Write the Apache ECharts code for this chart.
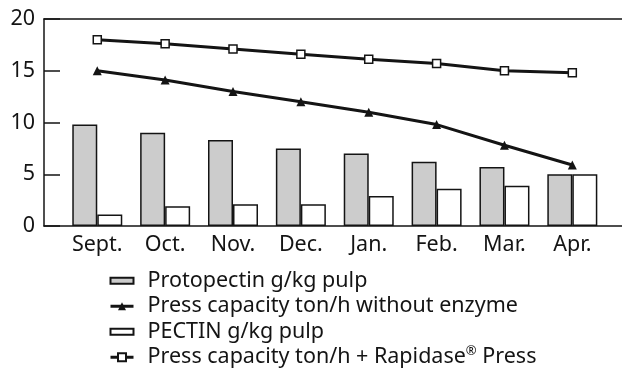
<!DOCTYPE html>
<html>
<head>
<meta charset="utf-8">
<script src="https://cdn.jsdelivr.net/npm/echarts@6/dist/echarts.min.js"></script>
<style>
  html, body { margin: 0; padding: 0; background: #fff; }
  #chart { width: 622px; height: 371px; }
</style>
</head>
<body>
<div id="chart"></div>
<script>
// Months of the pressing season
const months = ['Sept.', 'Oct.', 'Nov.', 'Dec.', 'Jan.', 'Feb.', 'Mar.', 'Apr.'];
// Pectin content of the pulp, g/kg
const protopectin = [9.8, 9.0, 8.3, 7.5, 7.0, 6.2, 5.7, 5.0];
const pectin = [1.1, 1.9, 2.1, 2.1, 2.9, 3.6, 3.9, 5.0];
// Press capacity, ton/h
const pressNoEnzyme = [15.0, 14.1, 13.0, 12.0, 11.0, 9.8, 7.8, 5.9];
const pressRapidase = [18.0, 17.6, 17.1, 16.6, 16.1, 15.7, 15.0, 14.8];
// Value-axis ticks
const yTicks = [0, 5, 10, 15, 20];

const names = {
  proto: 'Protopectin g/kg pulp',
  noEnz: 'Press capacity ton/h without enzyme',
  pectin: 'PECTIN g/kg pulp',
  rapid: 'Press capacity ton/h + Rapidase® Press'
};

const FONT = '"Noto Sans", sans-serif';
const FS = 21.5;
const INK = '#141414';
const monthIdx = months.map((_, i) => i);
const pairs = arr => arr.map((v, i) => [i, v]);
// flat box used as the legend key of the bar series
const BAR_KEY = 'path://M0,0H23V6H0Z';

const chart = echarts.init(document.getElementById('chart'), null, { renderer: 'canvas' });

const xRange = { min: -0.785, max: 7.732 };

chart.setOption({
  animation: false,
  backgroundColor: '#fff',
  textStyle: { fontFamily: FONT, color: INK },
  grid: { left: 44, right: 0, top: 19, bottom: 145 },
  xAxis: [
    {
      type: 'value',
      min: xRange.min,
      max: xRange.max,
      splitLine: { show: false },
      axisLine: { show: true, onZero: false, lineStyle: { color: INK, width: 1.5 } },
      axisTick: { show: false },
      axisLabel: {
        customValues: monthIdx,
        formatter: v => months[Math.round(v)] || '',
        fontFamily: FONT,
        fontSize: FS,
        color: INK,
        margin: 8
      }
    },
    {
      type: 'value',
      position: 'top',
      min: xRange.min,
      max: xRange.max,
      splitLine: { show: false },
      axisLine: { show: true, onZero: false, lineStyle: { color: INK, width: 1.5 } },
      axisTick: { show: false },
      axisLabel: { show: false }
    }
  ],
  yAxis: {
    type: 'value',
    min: yTicks[0],
    max: yTicks[yTicks.length - 1],
    interval: 5,
    splitLine: { show: false },
    axisLine: { show: true, onZero: false, lineStyle: { color: INK, width: 1.5 } },
    axisTick: { show: true, inside: true, length: 16, lineStyle: { color: INK, width: 1.5 } },
    axisLabel: { fontFamily: FONT, fontSize: FS, color: INK, margin: 9 }
  },
  legend: {
    orient: 'vertical',
    left: 109,
    top: 268,
    height: 103,
    padding: 0,
    itemWidth: 23,
    itemHeight: 10,
    itemGap: 0,
    symbolKeepAspect: true,
    lineStyle: { width: 3 },
    data: [
      { name: names.proto, icon: BAR_KEY },
      { name: names.noEnz },
      { name: names.pectin, icon: BAR_KEY },
      { name: names.rapid }
    ],
    formatter: n => n.replace('®', '{sup|®}'),
    textStyle: {
      fontFamily: FONT,
      fontSize: FS,
      color: INK,
      lineHeight: 25.5,
      padding: [0, 0, 0, 9],
      rich: {
        sup: { fontFamily: FONT, fontSize: 13, color: INK, verticalAlign: 'top', lineHeight: 25.5, padding: [0, 0, 7, 0] }
      }
    }
  },
  series: [
    {
      name: names.proto,
      type: 'bar',
      data: pairs(protopectin),
      barWidth: 25,
      barGap: '0%',
      itemStyle: { color: '#cccccc', borderColor: INK, borderWidth: 1.5 }
    },
    {
      name: names.pectin,
      type: 'bar',
      data: pairs(pectin),
      barWidth: 25,
      barGap: '0%',
      itemStyle: { color: '#ffffff', borderColor: INK, borderWidth: 1.5 }
    },
    {
      name: names.noEnz,
      type: 'line',
      data: pairs(pressNoEnzyme),
      symbol: 'triangle',
      symbolSize: 9,
      lineStyle: { color: INK, width: 3 },
      itemStyle: { color: INK, borderColor: INK, borderWidth: 0 },
      z: 3
    },
    {
      name: names.rapid,
      type: 'line',
      data: pairs(pressRapidase),
      symbol: 'rect',
      symbolSize: 8,
      showAllSymbol: true,
      lineStyle: { color: INK, width: 3 },
      itemStyle: { color: '#ffffff', borderColor: INK, borderWidth: 1.5 },
      z: 3
    }
  ]
});
</script>
</body>
</html>
